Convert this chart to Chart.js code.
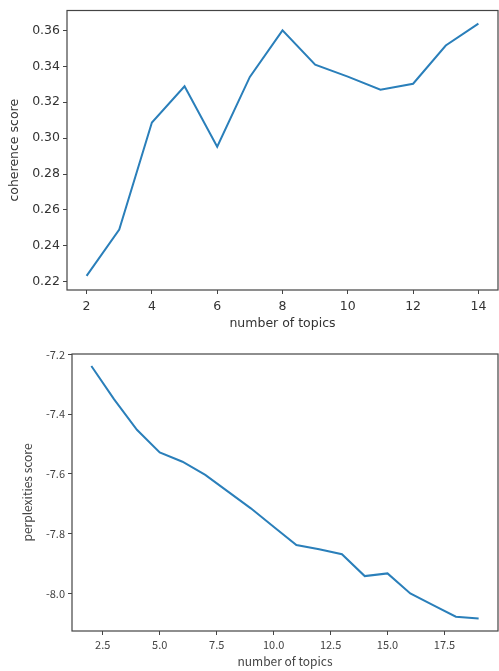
<!DOCTYPE html>
<html>
<head>
<meta charset="utf-8">
<script src="https://cdn.jsdelivr.net/npm/chart.js@4"></script>
<style>
  html, body { margin: 0; padding: 0; background: #fff; }
  #wrap { position: relative; width: 499px; height: 671px; }
  #chart-coherence { position: absolute; left: 0; top: 0; }
  #chart-perplexity { position: absolute; left: 0; top: 340px; }
</style>
</head>
<body>
<div id="wrap">
  <canvas id="chart-coherence" width="499" height="340"></canvas>
  <canvas id="chart-perplexity" width="499" height="331"></canvas>
</div>
<script>
// ===== data =====
const coherenceTopics = [2, 3, 4, 5, 6, 7, 8, 9, 10, 11, 12, 13, 14];
const coherenceScores = [0.2233, 0.2491, 0.3087, 0.3289, 0.2952, 0.3341, 0.3600, 0.3409, 0.3343, 0.3270, 0.3303, 0.3516, 0.3638];
const coherenceXTicks = [2, 4, 6, 8, 10, 12, 14];
const coherenceYTicks = [0.22, 0.24, 0.26, 0.28, 0.30, 0.32, 0.34, 0.36];

const perplexityTopics = [2, 3, 4, 5, 6, 7, 8, 9, 10, 11, 12, 13, 14, 15, 16, 17, 18, 19];
const perplexityScores = [-7.238, -7.350, -7.452, -7.528, -7.559, -7.603, -7.659, -7.715, -7.777, -7.838, -7.852, -7.869, -7.942, -7.933, -8.000, -8.039, -8.078, -8.084];
const perplexityXTicks = [2.5, 5.0, 7.5, 10.0, 12.5, 15.0, 17.5];
const perplexityYTicks = [-8.0, -7.8, -7.6, -7.4, -7.2];

const LINE_BLUE = '#2a7fba';

// full box around plot area, like matplotlib spines
const frame = {
  id: 'frame',
  afterDraw(chart) {
    const { ctx, chartArea: a } = chart;
    ctx.save();
    ctx.strokeStyle = '#444';
    ctx.lineWidth = 1.2;
    ctx.strokeRect(a.left, a.top, a.right - a.left, a.bottom - a.top);
    ctx.restore();
  }
};

function buildChart(el, opt) {
  const f = opt.font;
  return new Chart(el, {
    type: 'line',
    data: {
      datasets: [{
        data: opt.xs.map((x, i) => ({ x, y: opt.ys[i] })),
        borderColor: LINE_BLUE,
        borderWidth: 2,
        pointRadius: 0,
        tension: 0,
        fill: false,
      }]
    },
    options: {
      responsive: false,
      animation: false,
      layout: { padding: opt.padding },
      plugins: { legend: { display: false }, tooltip: { enabled: false } },
      scales: {
        x: {
          type: 'linear',
          min: opt.xMin,
          max: opt.xMax,
          afterBuildTicks: (axis) => { axis.ticks = opt.xTicks.map(v => ({ value: v })); },
          afterFit: (axis) => { axis.height = opt.xHeight; },
          ticks: {
            color: opt.tickColor,
            font: { family: f, size: opt.tickSize },
            padding: opt.xTickPad,
            maxRotation: 0,
            callback: opt.xFmt,
          },
          grid: { drawOnChartArea: false, drawTicks: true, tickLength: 4, color: '#444' },
          border: { display: false },
          title: {
            display: true, text: 'number of topics', color: opt.titleColor,
            font: { family: f, size: opt.titleSize }, padding: { top: 0, bottom: opt.xTitlePad }
          }
        },
        y: {
          type: 'linear',
          min: opt.yMin,
          max: opt.yMax,
          afterBuildTicks: (axis) => { axis.ticks = opt.yTicks.map(v => ({ value: v })); },
          afterFit: (axis) => { axis.width = opt.yWidth; },
          ticks: {
            color: opt.tickColor,
            font: { family: f, size: opt.tickSize },
            padding: 3,
            callback: opt.yFmt,
          },
          grid: { drawOnChartArea: false, drawTicks: true, tickLength: 4, color: '#444' },
          border: { display: false },
          title: {
            display: true, text: opt.yTitle, color: opt.titleColor,
            font: { family: f, size: opt.titleSize }, padding: { top: opt.yTitlePad, bottom: 0 }
          }
        }
      }
    },
    plugins: [frame]
  });
}

// ===== Coherence =====
buildChart(document.getElementById('chart-coherence'), {
  xs: coherenceTopics, ys: coherenceScores,
  xTicks: coherenceXTicks, yTicks: coherenceYTicks,
  xMin: 1.4, xMax: 14.6, yMin: 0.2154, yMax: 0.3711,
  xFmt: (v) => String(v), yFmt: (v) => v.toFixed(2),
  yTitle: 'coherence score',
  font: '"DejaVu Sans", sans-serif', tickSize: 12.5, titleSize: 12.5,
  tickColor: '#333', titleColor: '#333',
  padding: { top: 5, right: 1, left: 0, bottom: 0 },
  yWidth: 67, xHeight: 50, xTickPad: 5, xTitlePad: 9, yTitlePad: 7,
});

// ===== Perplexity =====
buildChart(document.getElementById('chart-perplexity'), {
  xs: perplexityTopics, ys: perplexityScores,
  xTicks: perplexityXTicks, yTicks: perplexityYTicks,
  xMin: 1.15, xMax: 19.85, yMin: -8.126, yMax: -7.198,
  xFmt: (v) => v.toFixed(1), yFmt: (v) => v.toFixed(1),
  yTitle: 'perplexities score',
  font: '"Noto Sans CJK KR", "Noto Sans", sans-serif', tickSize: 11, titleSize: 12,
  tickColor: '#444', titleColor: '#444',
  padding: { top: 14, right: 1, left: 0, bottom: 0 },
  yWidth: 72, xHeight: 40, xTickPad: 3, xTitlePad: 2, yTitlePad: 20,
});
</script>
</body>
</html>
